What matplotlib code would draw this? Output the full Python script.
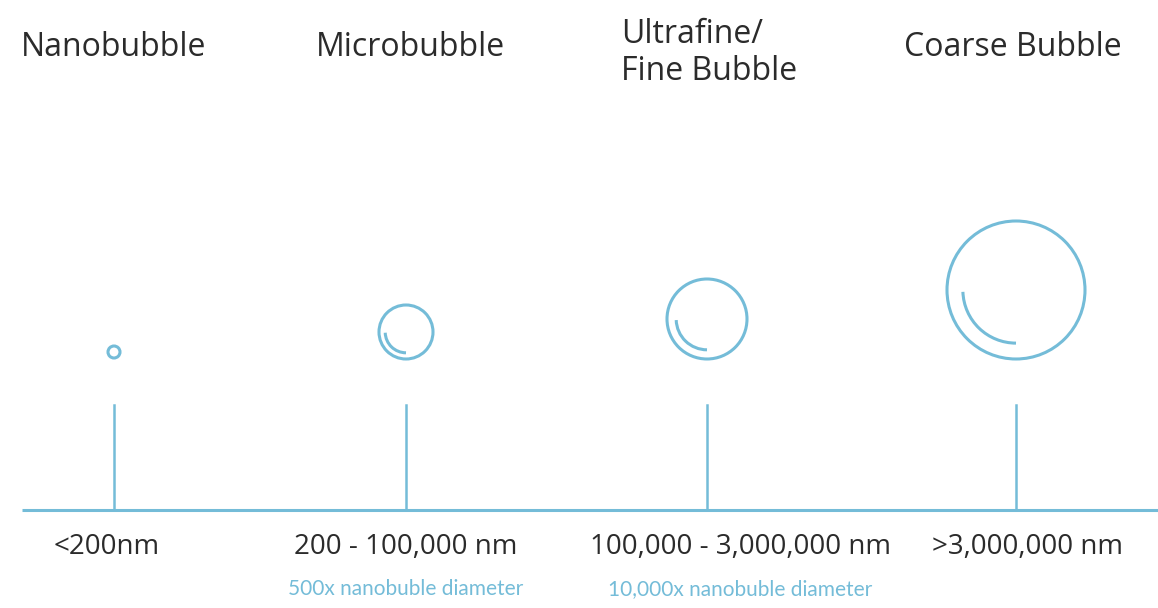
import numpy as np
import matplotlib
matplotlib.use("Agg")
import matplotlib.pyplot as plt
from matplotlib.patches import Circle, Arc

# data, in picture pixels
names = ["Nanobubble", "Microbubble", "Ultrafine/\nFine Bubble", "Coarse Bubble"]
ranges = ["<200nm", "200 - 100,000 nm", "100,000 - 3,000,000 nm", ">3,000,000 nm"]
notes = ["", "500x nanobuble diameter", "10,000x nanobuble diameter", ""]
stem_x = [114, 406, 707, 1016]
bubble_y = [352, 332, 319, 290]
bubble_r = [6, 27, 40, 69]
has_glint = [False, True, True, True]

blue = "#74bcd8"
dark = "#2b2b2b"

fig = plt.figure(figsize=(11.58, 6.08), dpi=100)
ax = fig.add_axes([0, 0, 1, 1])
ax.set_xlim(0, 1158)
ax.set_ylim(608, 0)
ax.set_aspect("equal")
ax.axis("off")

# baseline
ax.plot([22, 1158], [510, 510], color=blue, lw=2.2, solid_capstyle="butt")

for i in range(len(names)):
    x = stem_x[i]
    ax.plot([x, x], [405, 510], color=blue, lw=1.8)
    ax.add_patch(Circle((x, bubble_y[i]), bubble_r[i], fill=False, ec=blue, lw=2.2))
    if has_glint[i]:
        d = 1.54 * bubble_r[i]
        ax.add_patch(Arc((x, bubble_y[i]), d, d, theta1=90, theta2=178,
                         ec=blue, lw=2.2))

# titles
title_kw = dict(fontsize=23, family="Open Sans", color=dark, va="center")
ax.text(114, 47, names[0], ha="center", **title_kw)
ax.text(410, 47, names[1], ha="center", **title_kw)
ax.text(621, 53, names[2], ha="left", linespacing=1.15, **title_kw)
ax.text(1013, 47, names[3], ha="center", **title_kw)

# ranges
range_x = [107, 406, 740, 1027]
for i in range(len(ranges)):
    ax.text(range_x[i], 547, ranges[i], ha="center", va="center",
            fontsize=20, family="Open Sans", color=dark)
    if notes[i]:
        ax.text(range_x[i], 589, notes[i], ha="center", va="center",
                fontsize=15, family="Lato", color=blue)

fig.savefig("out.png", dpi=100)
